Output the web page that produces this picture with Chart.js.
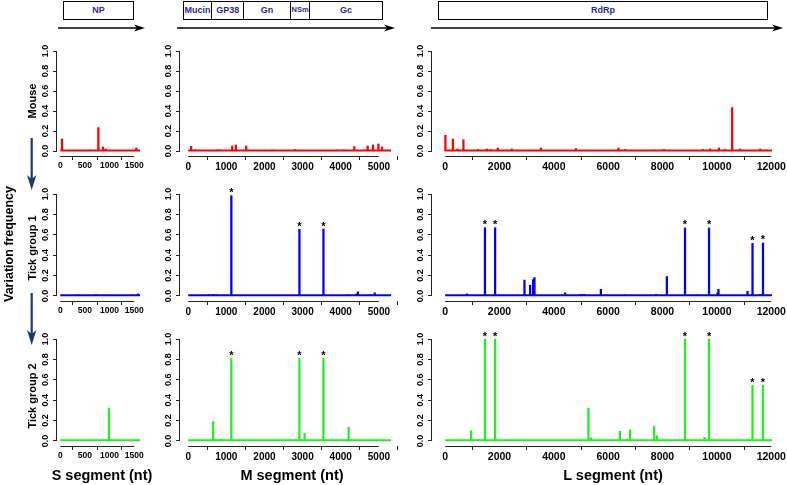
<!DOCTYPE html>
<html>
<head>
<meta charset="utf-8">
<script src="https://cdn.jsdelivr.net/npm/chart.js@4.4.0/dist/chart.umd.min.js"></script>
<style>
body { margin: 0; overflow: hidden; background: #fff; font-family: "Liberation Sans", Arial, sans-serif; }
#fig { position: relative; width: 787px; height: 485px; overflow: hidden; }
.panel { position: absolute; }
.lab { position: absolute; font-weight: bold; white-space: nowrap; color: #000; }
.rot { transform: translate(-50%, -50%) rotate(-90deg); }
.ctr { transform: translate(-50%, -50%); }
.genes { position: absolute; top: 1px; height: 19px; display: flex; border: 1.5px solid #000; box-sizing: border-box; background: #fff; }
.genes div { border-left: 1px solid #000; color: #2a2a8e; font-weight: bold; font-size: 9px; line-height: 16px; text-align: center; overflow: hidden; white-space: nowrap; }
.genes div:first-child { border-left: none; }
svg { position: absolute; left: 0; top: 0; pointer-events: none; }
</style>
</head>
<body>
<div id="fig"></div>
<script>
// tick labels
const yTicks = [0, 0.2, 0.4, 0.6, 0.8, 1.0];
const sTicks = [0, 500, 1000, 1500];
const mTicks = [0, 1000, 2000, 3000, 4000, 5000];
const lTicks = [0, 2000, 4000, 6000, 8000, 10000, 12000];

// covered length of each segment (nt): S, M, L
const segEnd = [1620, 5320, 12030];

// [position (nt), variation frequency]
const mouseS = [[35, 0.12], [596, 0.01], [773, 0.234], [866, 0.04], [920, 0.02], [1543, 0.03]];
const mouseM = [[78, 0.047], [173, 0.012], [777, 0.012], [830, 0.01], [1155, 0.05], [1250, 0.06], [1522, 0.05],
  [2205, 0.01], [2798, 0.015], [3910, 0.01], [4084, 0.01], [4357, 0.045], [4706, 0.05], [4846, 0.06], [4987, 0.07], [5082, 0.04]];
const mouseL = [[10, 0.157], [283, 0.12], [453, 0.02], [674, 0.113], [1203, 0.015], [1534, 0.02], [1681, 0.015], [1939, 0.03],
  [2454, 0.02], [3522, 0.03], [4810, 0.025], [6379, 0.03], [6625, 0.015], [7667, 0.01], [8049, 0.015], [9484, 0.015],
  [9753, 0.02], [10074, 0.03], [10306, 0.015], [10563, 0.434], [10858, 0.02], [11594, 0.02], [11840, 0.01]];

const tick1S = [[360, 0.01], [732, 0.012], [1000, 0.008], [1442, 0.01], [1576, 0.02]];
const tick1M = [[541, 0.015], [656, 0.015], [740, 0.01], [1132, 0.985], [2917, 0.654], [3547, 0.657], [4189, 0.01],
  [4417, 0.02], [4452, 0.04], [4780, 0.01], [4890, 0.03]];
const tick1L = [[798, 0.02], [1466, 0.67], [1840, 0.67], [2920, 0.155], [3128, 0.105], [3239, 0.16], [3288, 0.18],
  [4417, 0.03], [4994, 0.015], [5116, 0.015], [5731, 0.065], [6625, 0.01], [7766, 0.015], [8159, 0.19], [8827, 0.667],
  [9238, 0.01], [9711, 0.667], [10022, 0.03], [10059, 0.065], [11126, 0.045], [11311, 0.516], [11594, 0.015], [11697, 0.52]];

const tick2S = [[988, 0.32]];
const tick2M = [[236, 0.01], [400, 0.01], [656, 0.19], [725, 0.01], [856, 0.02], [1132, 0.81], [2917, 0.81], [3053, 0.075],
  [3547, 0.81], [4207, 0.135], [4741, 0.01]];
const tick2L = [[957, 0.1], [1203, 0.015], [1466, 1.0], [1840, 1.0], [3312, 0.01], [3963, 0.01], [5030, 0.01], [5274, 0.32],
  [5362, 0.03], [5643, 0.01], [6430, 0.095], [6687, 0.015], [6809, 0.108], [7692, 0.145], [7790, 0.052], [8502, 0.01],
  [8827, 1.0], [9544, 0.035], [9711, 1.0], [10368, 0.01], [11311, 0.545], [11697, 0.545]];

// sites marked with an asterisk
const starsM = [1132, 2917, 3547];
const starsL = [1466, 1840, 8827, 9711, 11311, 11697];

const rowColors = ['#ff0000', '#0000ff', '#22ee22'];
const FONT = '"Liberation Sans", Arial, sans-serif';

// layout of the 3x3 grid (plot regions, page px)
const cols = [
  { left: 57, width: 89, min: -66, max: 1739, ticks: sTicks, fs: 8.5 },
  { left: 180, width: 221, min: -214, max: 5580, ticks: mTicks, fs: 10 },
  { left: 432, width: 355, min: -483, max: 12580, ticks: lTicks, fs: 10.5 }
];
const rows = [{ top: 47, height: 109 }, { top: 190, height: 111 }, { top: 335, height: 111 }];
const Y_W = 24, X_H = 22, TOP_PAD = 14, RIGHT_PAD = 14;

const fig = document.getElementById('fig');

const rStyle = {
  id: 'rstyle',
  afterDraw(chart, args, opts) {
    const { ctx, chartArea, scales: { x, y } } = chart;
    ctx.save();
    ctx.strokeStyle = '#222';
    ctx.lineWidth = 1;
    const xt = x.ticks, yt = y.ticks;
    ctx.beginPath();
    ctx.moveTo(x.getPixelForValue(xt[0].value), chartArea.bottom + 0.5);
    ctx.lineTo(x.getPixelForValue(xt[xt.length - 1].value), chartArea.bottom + 0.5);
    ctx.moveTo(chartArea.left - 0.5, y.getPixelForValue(yt[0].value));
    ctx.lineTo(chartArea.left - 0.5, y.getPixelForValue(yt[yt.length - 1].value));
    ctx.stroke();

    ctx.fillStyle = '#000';
    ctx.font = 'bold 9px ' + FONT;
    ctx.textAlign = 'center';
    ctx.textBaseline = 'middle';
    yt.forEach(t => {
      ctx.save();
      ctx.translate(chartArea.left - 11, y.getPixelForValue(t.value));
      ctx.rotate(-Math.PI / 2);
      ctx.fillText(t.value.toFixed(1), 0, 0);
      ctx.restore();
    });

    ctx.font = 'bold 11px ' + FONT;
    ctx.textBaseline = 'alphabetic';
    const spikes = chart.data.datasets[1].data;
    (opts.stars || []).forEach(pos => {
      const p = spikes.find(d => d.x === pos);
      if (!p) return;
      ctx.fillText('*', x.getPixelForValue(pos), y.getPixelForValue(p.y) + 0.5);
    });
    ctx.restore();
  }
};

function makePanel(col, row, spikes, stars) {
  const c = cols[col], r = rows[row];
  const color = rowColors[row];
  const div = document.createElement('div');
  div.className = 'panel';
  div.style.left = (c.left - Y_W) + 'px';
  div.style.top = (r.top - TOP_PAD) + 'px';
  div.style.width = (c.width + Y_W + RIGHT_PAD) + 'px';
  div.style.height = (r.height + TOP_PAD + X_H) + 'px';
  const canvas = document.createElement('canvas');
  div.appendChild(canvas);
  fig.appendChild(div);

  new Chart(canvas, {
    type: 'bar',
    data: {
      datasets: [
        {
          type: 'line',
          data: [{ x: 1, y: 0.006 }, { x: segEnd[col], y: 0.006 }],
          borderColor: color,
          borderWidth: 2,
          pointRadius: 0
        },
        {
          type: 'bar',
          data: spikes.map(s => ({ x: s[0], y: s[1] })),
          backgroundColor: color,
          borderWidth: 0,
          barThickness: 1.6
        }
      ]
    },
    options: {
      responsive: true,
      maintainAspectRatio: false,
      animation: false,
      layout: { padding: { left: 0, top: TOP_PAD, right: RIGHT_PAD, bottom: 0 } },
      plugins: { legend: { display: false }, tooltip: { enabled: false }, rstyle: { stars: stars } },
      scales: {
        x: {
          type: 'linear',
          min: c.min,
          max: c.max,
          offset: false,
          afterBuildTicks: s => { s.ticks = c.ticks.map(v => ({ value: v })); },
          afterFit: s => { s.height = X_H; },
          grid: { drawOnChartArea: false, drawTicks: true, tickLength: 4, color: '#222' },
          border: { display: false },
          ticks: {
            color: '#000',
            padding: 1,
            maxRotation: 0,
            autoSkip: false,
            font: { family: FONT, size: c.fs, weight: 'bold' },
            callback: v => String(v)
          }
        },
        y: {
          min: -0.05,
          max: 1.04,
          afterBuildTicks: s => { s.ticks = yTicks.map(v => ({ value: v })); },
          afterFit: s => { s.width = Y_W; },
          grid: { drawOnChartArea: false, drawTicks: true, tickLength: 4, color: '#222' },
          border: { display: false },
          ticks: { display: false }
        }
      }
    },
    plugins: [rStyle]
  });
}

makePanel(0, 0, mouseS, []);
makePanel(1, 0, mouseM, []);
makePanel(2, 0, mouseL, []);
makePanel(0, 1, tick1S, []);
makePanel(1, 1, tick1M, starsM);
makePanel(2, 1, tick1L, starsL);
makePanel(0, 2, tick2S, []);
makePanel(1, 2, tick2M, starsM);
makePanel(2, 2, tick2L, starsL);

// labels
function label(text, x, y, size, rotated) {
  const d = document.createElement('div');
  d.className = 'lab ' + (rotated ? 'rot' : 'ctr');
  d.style.left = x + 'px';
  d.style.top = y + 'px';
  d.style.fontSize = size + 'px';
  d.textContent = text;
  fig.appendChild(d);
}
label('Mouse', 31.5, 101, 11, true);
label('Tick group 1', 31.5, 248, 11, true);
label('Tick group 2', 31.5, 396, 11, true);
label('Variation frequency', 8.5, 244, 12.5, true);
label('S segment (nt)', 102, 475, 14.5, false);
label('M segment (nt)', 292, 475, 14.5, false);
label('L segment (nt)', 613, 475, 14.5, false);

// gene annotation boxes
function genes(left, parts) {
  const g = document.createElement('div');
  g.className = 'genes';
  g.style.left = left + 'px';
  let w = 0;
  parts.forEach(p => {
    const d = document.createElement('div');
    d.style.width = p[1] + 'px';
    if (p[2]) d.style.fontSize = p[2] + 'px';
    d.textContent = p[0];
    g.appendChild(d);
    w += p[1];
  });
  g.style.width = w + 'px';
  fig.appendChild(g);
}
genes(63, [['NP', 71]]);
genes(183, [['Mucin', 28], ['GP38', 32], ['Gn', 47], ['NSm', 19, 7.5], ['Gc', 74]]);
genes(438, [['RdRp', 330]]);

// arrows
const svgNS = 'http://www.w3.org/2000/svg';
const svg = document.createElementNS(svgNS, 'svg');
svg.setAttribute('width', 787);
svg.setAttribute('height', 485);
function el(name, attrs) {
  const e = document.createElementNS(svgNS, name);
  for (const k in attrs) e.setAttribute(k, attrs[k]);
  svg.appendChild(e);
}
[[58, 145], [177, 395], [431, 783]].forEach(a => {
  el('line', { x1: a[0], y1: 28, x2: a[1] - 6, y2: 28, stroke: '#000', 'stroke-width': 1.3 });
  el('polygon', { points: `${a[1]},28 ${a[1] - 11},24.5 ${a[1] - 8},28 ${a[1] - 11},31.5`, fill: '#000' });
});
[[138, 190], [293, 345]].forEach(a => {
  el('line', { x1: 31.7, y1: a[0], x2: 31.7, y2: a[1] - 10, stroke: '#1b3a6b', 'stroke-width': 2.2 });
  el('polygon', { points: `31.7,${a[1]} 27,${a[1] - 15} 31.7,${a[1] - 11} 36.4,${a[1] - 15}`, fill: '#1b3a6b' });
});
fig.appendChild(svg);
</script>
</body>
</html>
